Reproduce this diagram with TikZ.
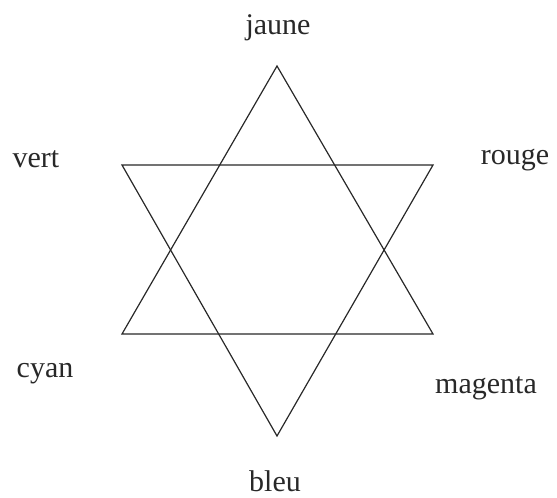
\documentclass[tikz,border=0pt]{standalone}
\usepackage{fontspec}
\setmainfont{Liberation Serif}
\definecolor{StarGrey}{RGB}{40, 40, 40}

\begin{document}
\begin{tikzpicture}[x=1pt, y=-1pt,
                edge/.style={draw=StarGrey, line width=1.2pt, line join=miter},
                lbl/.style={anchor=base, inner sep=0pt, text=StarGrey, font=\fontsize{30}{36}\selectfont}
            ]
                \useasboundingbox (0,0) rectangle (557,498);

                % Vertices
                \coordinate (t) at (277, 66);
                \coordinate (b) at (277, 436);
                \coordinate (ul) at (122, 165);
                \coordinate (ur) at (433, 165);
                \coordinate (ll) at (122, 334);
                \coordinate (lr) at (433, 334);

                % Two triangles
                \draw[edge] (t) -- (ll) -- (lr) -- cycle;
                \draw[edge] (b) -- (ul) -- (ur) -- cycle;

                % Labels
                \node[lbl] (jaune) at (278, 34) {jaune};
                \node[lbl] (rouge) at (515, 164) {rouge};
                \node[lbl] (vert) at (36, 167) {vert};
                \node[lbl] (cyan) at (45, 377) {cyan};
                \node[lbl] (magenta) at (486, 393) {magenta};
                \node[lbl] (bleu) at (275, 491) {bleu};
            \end{tikzpicture}
\end{document}
